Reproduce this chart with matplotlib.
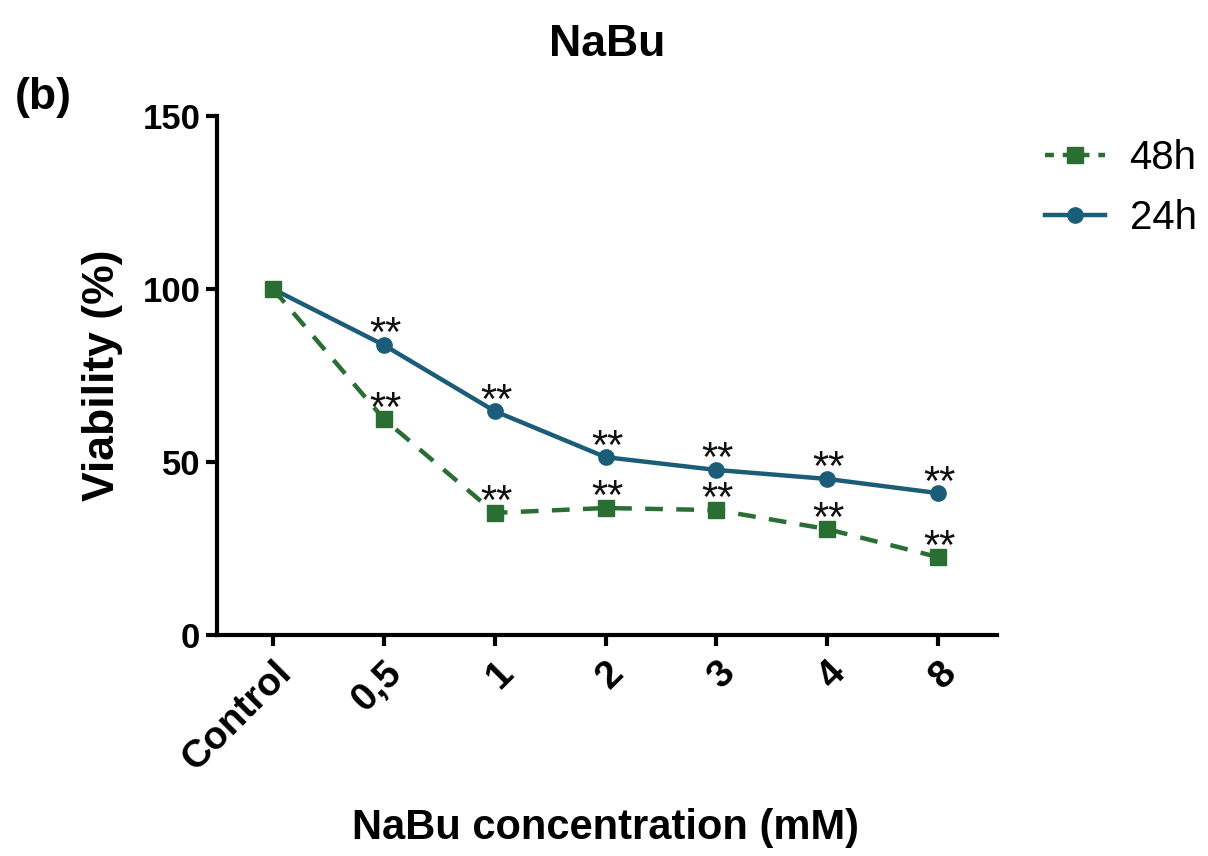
"""NaBu viability line chart, 24h vs 48h."""

import matplotlib
matplotlib.use("Agg")
import matplotlib.pyplot as plt
from matplotlib.lines import Line2D

plt.rcParams["font.family"] = ["Liberation Sans", "DejaVu Sans"]

concentrations = ["Control", "0,5", "1", "2", "3", "4", "8"]
viability_24h = [100, 83.8, 64.7, 51.4, 47.7, 45.1, 41.0]
viability_48h = [100, 62.4, 35.3, 36.7, 36.1, 30.6, 22.5]
stars_24h = ["", "**", "**", "**", "**", "**", "**"]
stars_48h = ["", "**", "**", "**", "**", "**", "**"]
y_ticks = [0, 50, 100, 150]

BLUE = "#1b5d78"
GREEN = "#2a6e34"

fig = plt.figure(figsize=(12.08, 8.56), dpi=100)
ax = fig.add_axes([217 / 1208, 1 - 635 / 856, (997 - 217) / 1208, (635 - 116) / 856])

x = list(range(len(concentrations)))
ax.plot(x, viability_24h, color=BLUE, lw=3.2, marker="o", ms=11, zorder=3)
ax.plot(x, viability_48h, color=GREEN, lw=3.2, ls=(0, (4, 3)), marker="s", ms=11, zorder=4)

for xi, yi, s in zip(x, viability_24h, stars_24h):
    ax.annotate(s, (xi, yi), xytext=(1, -1), textcoords="offset points",
                ha="center", va="baseline", fontsize=30, color="#111111", zorder=5)
for xi, yi, s in zip(x, viability_48h, stars_48h):
    ax.annotate(s, (xi, yi), xytext=(1, -1), textcoords="offset points",
                ha="center", va="baseline", fontsize=30, color="#111111", zorder=5)

ax.set_xlim(-0.505, 6.53)
ax.set_ylim(0, 150)
ax.set_yticks(y_ticks)
ax.set_xticks(x)
ax.set_xticklabels(concentrations, rotation=45, ha="right", rotation_mode="anchor")

for side in ("top", "right"):
    ax.spines[side].set_visible(False)
for side in ("left", "bottom"):
    ax.spines[side].set_linewidth(3)
ax.tick_params(axis="both", which="major", width=3, length=8, labelsize=25, pad=4)
ax.tick_params(axis="x", labelsize=28, pad=6)
for lbl in ax.get_xticklabels() + ax.get_yticklabels():
    lbl.set_fontweight("bold")

ax.set_ylabel("Viability (%)", fontsize=32, fontweight="bold", labelpad=14)
fig.text(605 / 1208, 1 - 828 / 856, "NaBu concentration (mM)", fontsize=30,
         fontweight="bold", ha="center", va="center")
fig.text(607 / 1208, 1 - 45 / 856, "NaBu", fontsize=32, fontweight="bold",
         ha="center", va="center")
fig.text(43 / 1208, 1 - 97 / 856, "(b)", fontsize=32, fontweight="bold",
         ha="center", va="center")

handles = [
    Line2D([], [], color=GREEN, lw=3.2, ls=(0, (2, 2)), marker="s", ms=11),
    Line2D([], [], color=BLUE, lw=3.2, marker="o", ms=11),
]
fig.legend(handles, ["48h", "24h"], loc="upper left",
           bbox_to_anchor=(1045 / 1208, 1 - 139 / 856), frameon=False,
           fontsize=29, handlelength=1.5, handletextpad=0.6, labelspacing=0.55,
           borderaxespad=0, borderpad=0)

fig.savefig("out.png", dpi=100, facecolor="white")
